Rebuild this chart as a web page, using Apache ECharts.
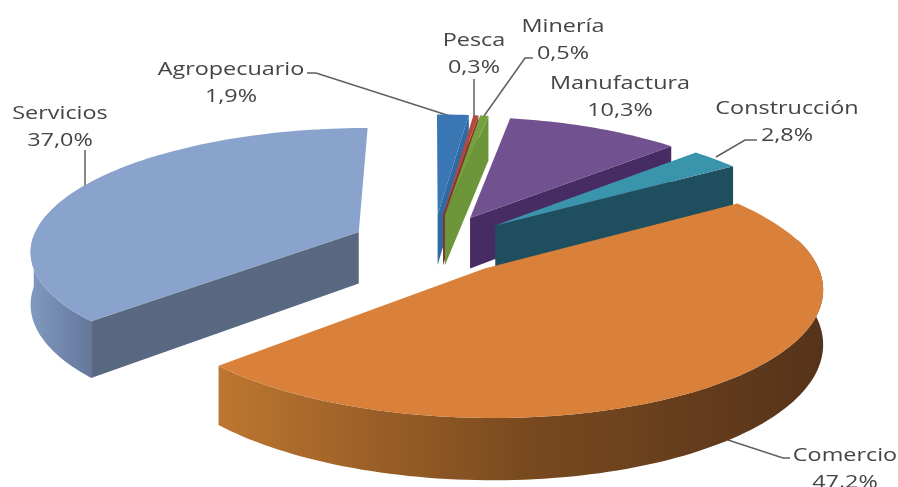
<!DOCTYPE html>
<html>
<head>
<meta charset="utf-8">
<style>
  html, body { margin: 0; padding: 0; background: #fff; overflow: hidden; }
  #chart { width: 898px; height: 487px; filter: blur(0.5px); }
</style>
<script src="https://cdn.jsdelivr.net/npm/echarts@6/dist/echarts.min.js"></script>
</head>
<body>
<div id="chart"></div>
<script>
// --- données --- //
const categories = ['Agropecuario', 'Pesca', 'Minería', 'Manufactura', 'Construcción', 'Comercio', 'Servicios'];
const shares = [1.9, 0.3, 0.5, 10.3, 2.8, 47.2, 37.0];

// --- couleurs : dessus, parois, bord extérieur --- //
const topColors = ['#3a76b4', '#b5483c', '#74a03f', '#71518f', '#3a94ac', '#d9813a', '#8aa3cd'];
const wallColors = ['#2f6aa5', '#86352c', '#6c9639', '#472c63', '#1f4f5e', '#8a5220', '#586880'];
const rimColors = [
  ['#2b5a8c', '#2b5a8c', '#2b5a8c'], ['#86352c', '#86352c', '#86352c'], ['#56772e', '#56772e', '#56772e'],
  ['#472c63', '#472c63', '#472c63'], ['#1f4f5e', '#1f4f5e', '#1f4f5e'],
  ['#bd7630', '#7a4a1f', '#55331a'], ['#8198c0', '#7288ad', '#64779a']
];

// --- projection du camembert 3D --- //
const center = { x: 433, y: 244 };
const radiusLeft = 328;
const radiusRight = 325;
const radiusY = 121.5;
const perspective = 0.1376;
const backSqueeze = 0.03;
const explode = 0.25;
const depth = 52;
const drawOrder = [6, 0, 1, 2, 3, 4, 5];

function project(u, v) {
  const w = 1 / (1 + perspective * v);
  const rx = u > 0 ? radiusRight * (1 - backSqueeze * Math.max(v, 0)) : radiusLeft;
  return [center.x + rx * u * w, center.y - radiusY * v * w, w];
}

function sliceAngles() {
  const total = shares.reduce((a, b) => a + b, 0);
  let acc = 0;
  return shares.map((s) => {
    const start = (acc / total) * 2 * Math.PI;
    acc += s;
    return [start, (acc / total) * 2 * Math.PI];
  });
}
const angles = sliceAngles();

function renderSlice(params) {
  const i = drawOrder[params.dataIndex];
  const [a0, a1] = angles[i];
  const mid = (a0 + a1) / 2;
  const ox = explode * Math.sin(mid);
  const oy = explode * Math.cos(mid);
  const steps = Math.max(4, Math.ceil((a1 - a0) * 40));

  const rim = [];
  for (let k = 0; k <= steps; k++) {
    const a = a0 + ((a1 - a0) * k) / steps;
    rim.push({ a, p: project(ox + Math.sin(a), oy + Math.cos(a)) });
  }
  const tip = project(ox, oy);
  const down = (p) => [p[0], p[1] + depth * p[2]];
  const flat = (p) => [p[0], p[1]];

  const children = [];
  // parois radiales : seulement celles tournées vers l'avant
  const wallPoints = [];
  if (Math.sin(a0) < -1e-6) wallPoints.push(rim[0].p);
  if (Math.sin(a1) > 1e-6) wallPoints.push(rim[rim.length - 1].p);
  wallPoints.forEach((p) => {
    children.push({
      type: 'polygon',
      shape: { points: [flat(tip), flat(p), down(p), down(tip)] },
      style: { fill: wallColors[i] }
    });
  });
  // bord extérieur, seulement la partie tournée vers l'avant
  const front = rim.filter((r) => Math.cos(r.a) < -0.02 || (Math.sin(r.a) > 0.97));
  if (front.length > 1) {
    const pts = front.map((r) => flat(r.p)).concat(front.slice().reverse().map((r) => down(r.p)));
    children.push({
      type: 'polygon',
      shape: { points: pts },
      style: {
        fill: new echarts.graphic.LinearGradient(0, 0, 1, 0, [
          { offset: 0, color: rimColors[i][0] },
          { offset: 0.5, color: rimColors[i][1] },
          { offset: 1, color: rimColors[i][2] }
        ])
      }
    });
  }
  // dessus
  children.push({
    type: 'polygon',
    shape: { points: [flat(tip)].concat(rim.map((r) => flat(r.p))) },
    style: { fill: topColors[i] }
  });
  return { type: 'group', children };
}

// --- étiquettes et lignes de rappel --- //
const labelPos = [[231, 66], [474, 37], [563, 23], [620, 80], [787, 105], [845, 452], [60, 110]];
const leaders = [
  [[307, 73], [316, 73], [450, 116]],
  [[474, 79], [474, 118]],
  [[533, 58], [525, 58], [484, 116]],
  null,
  [[757, 140], [745, 140], [716, 157]],
  [[728, 440], [783, 458], [790, 458]],
  [[85, 150], [85, 187]]
];

const labelText = (i) => categories[i] + '\n' + shares[i].toFixed(1).replace('.', ',') + '%';

const graphics = [];
leaders.forEach((pts) => {
  if (!pts) return;
  graphics.push({
    type: 'polyline',
    z: 1,
    shape: { points: pts },
    style: { stroke: '#5f5f5f', lineWidth: 1.5, fill: null }
  });
});
categories.forEach((c, i) => {
  graphics.push({
    type: 'text',
    z: 5,
    x: labelPos[i][0],
    y: labelPos[i][1] - 10,
    scaleX: 1.3,
    style: {
      text: labelText(i),
      font: '18px "Open Sans"',
      lineHeight: 27,
      fill: '#454545',
      align: 'center',
      verticalAlign: 'top'
    }
  });
});

const chart = echarts.init(document.getElementById('chart'));
chart.setOption({
  animation: false,
  graphic: graphics,
  series: [{
    type: 'custom',
    coordinateSystem: 'none',
    silent: true,
    z: 2,
    renderItem: renderSlice,
    data: drawOrder.map((i) => shares[i])
  }]
});
</script>
</body>
</html>
